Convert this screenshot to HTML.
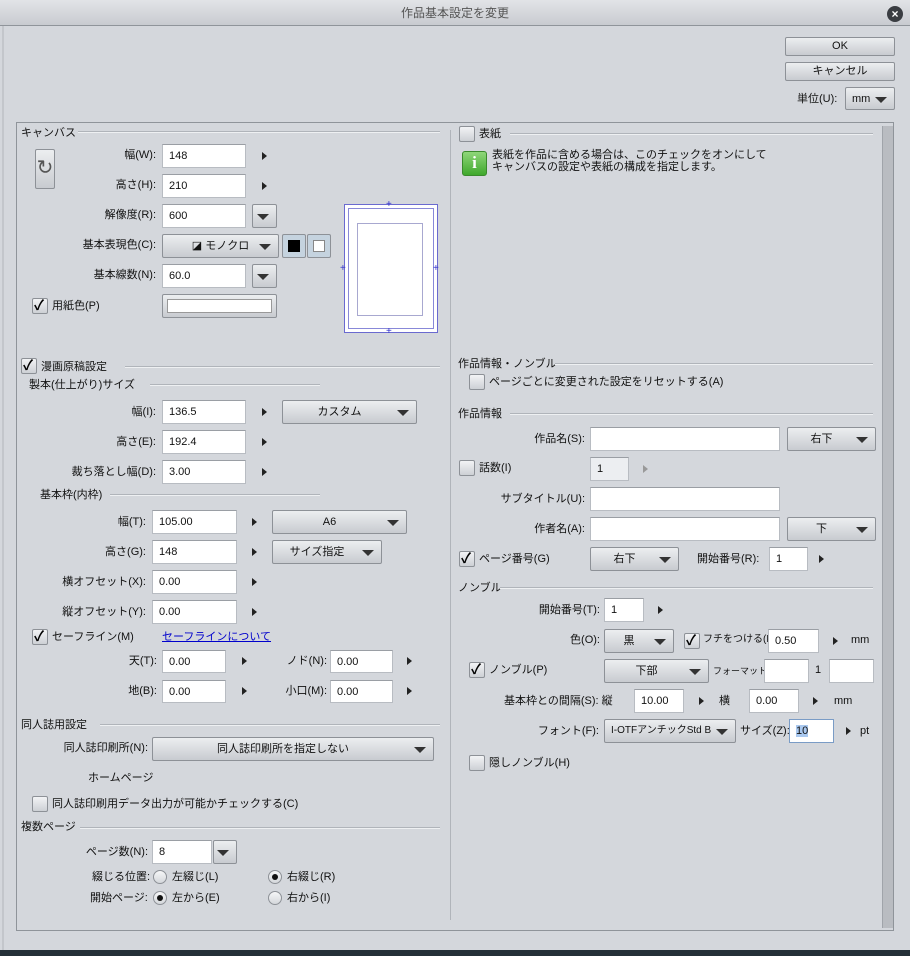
<!DOCTYPE html><html><head><meta charset="utf-8"><style>
body{margin:0;width:910px;height:956px;overflow:hidden;background:#d4d7dc;font-family:"Liberation Sans","Noto Sans CJK JP",sans-serif;font-size:11px;color:#111;position:relative}
div{position:absolute;box-sizing:border-box}
.t{line-height:14px;white-space:nowrap}
.r{text-align:right}
.in{background:#fff;border:1px solid #b8bcc2;border-top-color:#9a9ea4;padding:4px 0 0 6px;font-size:11px;line-height:14px}
.btn{background:linear-gradient(#eceef0,#c8cbd0);border:1px solid #8d9197;border-radius:2px;text-align:center;line-height:16px}
.dd{background:linear-gradient(#eceef0,#c8cbd0);border:1px solid #8d9197;border-radius:2px;line-height:22px;text-align:center}
.dd:after{content:"";position:absolute;right:7px;top:9px;border-left:6px solid transparent;border-right:6px solid transparent;border-top:6px solid #333}
.ar{width:0;height:0;border-top:4px solid transparent;border-bottom:4px solid transparent;border-left:5px solid #222}
.cb{width:16px;height:16px;border:1px solid #8d9197;border-radius:2px;background:linear-gradient(#f2f3f5,#cdd0d5)}
.ck:after{content:"✓";position:absolute;left:1px;top:-2px;font-size:14px;line-height:16px;font-weight:bold;color:#000}
.ln{background:#b0b4ba;border-bottom:1px solid #eef0f2;height:2px}
.rd{width:14px;height:14px;border:1px solid #8d9197;border-radius:50%;background:linear-gradient(#f6f7f8,#d4d7db)}
.rd.on:after{content:"";position:absolute;left:3px;top:3px;width:6px;height:6px;border-radius:50%;background:#111}
</style></head><body>
<div style="left:0;top:0;width:910px;height:26px;background:linear-gradient(#e2e4e7,#c8cbd0);border-bottom:1px solid #8f949a"></div>
<div class="t" style="left:0;top:6px;width:910px;text-align:center;color:#555;font-size:12px">作品基本設定を変更</div>
<div style="left:887px;top:6px;width:16px;height:16px;border-radius:50%;background:#3a3d42;color:#fff;font-size:12px;line-height:16px;text-align:center;font-weight:bold">×</div>
<div style="left:2px;top:26px;width:2px;height:924px;background:#c3c6cb"></div>

<div class="btn" style="left:785px;top:37px;width:110px;height:19px">OK</div>
<div class="btn" style="left:785px;top:62px;width:110px;height:19px">キャンセル</div>
<div class="t" style="left:797px;top:92px">単位(U):</div>
<div class="dd" style="left:845px;top:87px;width:50px;height:23px;text-align:left;padding-left:6px">mm</div>

<div style="left:16px;top:122px;width:878px;height:809px;border:1px solid #8f949a"></div>
<div style="left:882px;top:126px;width:11px;height:802px;background:#b9bcc1;border-left:1px solid #a0a4aa"></div>
<div style="left:450px;top:130px;width:1px;height:790px;background:#b0b4ba"></div>

<div class="t" style="left:21px;top:126px">キャンバス</div><div class="ln" style="left:78px;top:131px;width:362px"></div>
<div class="btn" style="left:35px;top:149px;width:20px;height:40px;font-size:20px;line-height:36px;color:#555">↻</div>
<div class="t r" style="right:754px;top:148px">幅(W):</div><div class="in" style="left:162px;top:144px;width:84px;height:24px">148</div><div class="ar" style="left:262px;top:152px"></div>
<div class="t r" style="right:754px;top:178px">高さ(H):</div><div class="in" style="left:162px;top:174px;width:84px;height:24px">210</div><div class="ar" style="left:262px;top:182px"></div>
<div class="t r" style="right:754px;top:208px">解像度(R):</div><div class="in" style="left:162px;top:204px;width:84px;height:24px">600</div><div class="dd" style="left:252px;top:204px;width:25px;height:24px"></div>
<div class="t r" style="right:754px;top:238px">基本表現色(C):</div><div class="dd" style="left:162px;top:234px;width:117px;height:24px">◪ モノクロ</div>
<div class="btn" style="left:282px;top:234px;width:24px;height:24px;background:#c5d3df"><div style="left:5px;top:5px;width:12px;height:12px;background:#000"></div></div>
<div class="btn" style="left:307px;top:234px;width:24px;height:24px;background:#c5d3df"><div style="left:5px;top:5px;width:12px;height:12px;background:#fff;border:1px solid #888"></div></div>
<div class="t r" style="right:754px;top:268px">基本線数(N):</div><div class="in" style="left:162px;top:264px;width:84px;height:24px">60.0</div><div class="dd" style="left:252px;top:264px;width:25px;height:24px"></div>
<div class="cb ck" style="left:32px;top:298px"></div><div class="t" style="left:52px;top:299px">用紙色(P)</div>
<div class="btn" style="left:162px;top:294px;width:115px;height:24px"><div style="left:4px;top:4px;width:105px;height:14px;background:#fff;border:1px solid #999"></div></div>
<div style="left:344px;top:204px;width:94px;height:129px;background:#fff;border:1px solid #6a6ad0"></div>
<div style="left:348px;top:208px;width:86px;height:121px;border:1px solid #8888d8"></div>
<div style="left:357px;top:223px;width:66px;height:93px;border:1px solid #a8a8d0"></div>
<div class="t" style="left:340px;top:262px;color:#33c;font-size:10px">+</div><div class="t" style="left:433px;top:262px;color:#33c;font-size:10px">+</div>
<div class="t" style="left:386px;top:198px;color:#33c;font-size:10px">+</div><div class="t" style="left:386px;top:325px;color:#33c;font-size:10px">+</div>

<div class="cb ck" style="left:21px;top:358px"></div><div class="t" style="left:41px;top:360px">漫画原稿設定</div><div class="ln" style="left:125px;top:366px;width:315px"></div>
<div class="t" style="left:29px;top:378px">製本(仕上がり)サイズ</div><div class="ln" style="left:150px;top:384px;width:170px"></div>
<div class="t r" style="right:754px;top:405px">幅(I):</div><div class="in" style="left:162px;top:400px;width:84px;height:24px">136.5</div><div class="ar" style="left:262px;top:408px"></div><div class="dd" style="left:282px;top:400px;width:135px;height:24px;padding-right:20px">カスタム</div>
<div class="t r" style="right:754px;top:435px">高さ(E):</div><div class="in" style="left:162px;top:430px;width:84px;height:24px">192.4</div><div class="ar" style="left:262px;top:438px"></div>
<div class="t r" style="right:754px;top:465px">裁ち落とし幅(D):</div><div class="in" style="left:162px;top:460px;width:84px;height:24px">3.00</div><div class="ar" style="left:262px;top:468px"></div>
<div class="t" style="left:40px;top:488px">基本枠(内枠)</div><div class="ln" style="left:110px;top:494px;width:210px"></div>
<div class="t r" style="right:764px;top:515px">幅(T):</div><div class="in" style="left:152px;top:510px;width:85px;height:24px">105.00</div><div class="ar" style="left:252px;top:518px"></div><div class="dd" style="left:272px;top:510px;width:135px;height:24px;padding-right:20px">A6</div>
<div class="t r" style="right:764px;top:545px">高さ(G):</div><div class="in" style="left:152px;top:540px;width:85px;height:24px">148</div><div class="ar" style="left:252px;top:548px"></div><div class="dd" style="left:272px;top:540px;width:110px;height:24px;padding-right:20px">サイズ指定</div>
<div class="t r" style="right:764px;top:575px">横オフセット(X):</div><div class="in" style="left:152px;top:570px;width:85px;height:24px">0.00</div><div class="ar" style="left:252px;top:578px"></div>
<div class="t r" style="right:764px;top:605px">縦オフセット(Y):</div><div class="in" style="left:152px;top:600px;width:85px;height:24px">0.00</div><div class="ar" style="left:252px;top:608px"></div>
<div class="cb ck" style="left:32px;top:629px"></div><div class="t" style="left:52px;top:630px">セーフライン(M)</div>
<div class="t" style="left:162px;top:630px;color:#00c;text-decoration:underline">セーフラインについて</div>
<div class="t r" style="right:753px;top:654px">天(T):</div><div class="in" style="left:162px;top:650px;width:64px;height:23px">0.00</div><div class="ar" style="left:242px;top:657px"></div>
<div class="t r" style="right:583px;top:654px">ノド(N):</div><div class="in" style="left:330px;top:650px;width:63px;height:23px">0.00</div><div class="ar" style="left:407px;top:657px"></div>
<div class="t r" style="right:753px;top:684px">地(B):</div><div class="in" style="left:162px;top:680px;width:64px;height:23px">0.00</div><div class="ar" style="left:242px;top:687px"></div>
<div class="t r" style="right:583px;top:684px">小口(M):</div><div class="in" style="left:330px;top:680px;width:63px;height:23px">0.00</div><div class="ar" style="left:407px;top:687px"></div>

<div class="t" style="left:21px;top:718px">同人誌用設定</div><div class="ln" style="left:100px;top:724px;width:340px"></div>
<div class="t r" style="right:762px;top:741px">同人誌印刷所(N):</div><div class="dd" style="left:152px;top:737px;width:282px;height:24px;padding-right:20px">同人誌印刷所を指定しない</div>
<div class="t" style="left:88px;top:771px">ホームページ</div>
<div class="cb" style="left:32px;top:796px"></div><div class="t" style="left:52px;top:797px">同人誌印刷用データ出力が可能かチェックする(C)</div>
<div class="t" style="left:21px;top:820px">複数ページ</div><div class="ln" style="left:80px;top:827px;width:360px"></div>
<div class="t r" style="right:762px;top:845px">ページ数(N):</div><div class="in" style="left:152px;top:840px;width:60px;height:24px">8</div><div class="dd" style="left:213px;top:840px;width:24px;height:24px"></div>
<div class="t" style="left:92px;top:870px">綴じる位置:</div><div class="rd" style="left:153px;top:870px"></div><div class="t" style="left:172px;top:870px">左綴じ(L)</div><div class="rd on" style="left:268px;top:870px"></div><div class="t" style="left:287px;top:870px">右綴じ(R)</div>
<div class="t" style="left:90px;top:891px">開始ページ:</div><div class="rd on" style="left:153px;top:891px"></div><div class="t" style="left:172px;top:891px">左から(E)</div><div class="rd" style="left:268px;top:891px"></div><div class="t" style="left:287px;top:891px">右から(I)</div>

<div class="cb" style="left:459px;top:126px"></div><div class="t" style="left:479px;top:127px">表紙</div><div class="ln" style="left:510px;top:133px;width:363px"></div>
<div style="left:462px;top:151px;width:25px;height:25px;border-radius:3px;background:linear-gradient(#8fd67a,#3fa82c);border:1px solid #3a8a2c;color:#fff;font-weight:bold;font-size:17px;line-height:22px;text-align:center;font-family:'Liberation Serif',serif">i</div>
<div class="t" style="left:492px;top:148px">表紙を作品に含める場合は、このチェックをオンにして</div>
<div class="t" style="left:492px;top:160px">キャンバスの設定や表紙の構成を指定します。</div>

<div class="t" style="left:458px;top:357px">作品情報・ノンブル</div><div class="ln" style="left:555px;top:363px;width:318px"></div>
<div class="cb" style="left:469px;top:374px"></div><div class="t" style="left:489px;top:375px">ページごとに変更された設定をリセットする(A)</div>
<div class="t" style="left:458px;top:407px">作品情報</div><div class="ln" style="left:510px;top:413px;width:363px"></div>
<div class="t r" style="right:325px;top:432px">作品名(S):</div><div class="in" style="left:590px;top:427px;width:190px;height:24px"></div><div class="dd" style="left:787px;top:427px;width:89px;height:24px;padding-right:20px">右下</div>
<div class="cb" style="left:459px;top:460px"></div><div class="t" style="left:479px;top:461px">話数(I)</div>
<div class="in" style="left:590px;top:457px;width:39px;height:24px;background:#eceef1">1</div><div class="ar" style="left:643px;top:465px;border-left-color:#999"></div>
<div class="t r" style="right:325px;top:492px">サブタイトル(U):</div><div class="in" style="left:590px;top:487px;width:190px;height:24px"></div>
<div class="t r" style="right:325px;top:522px">作者名(A):</div><div class="in" style="left:590px;top:517px;width:190px;height:24px"></div><div class="dd" style="left:787px;top:517px;width:89px;height:24px;padding-right:20px">下</div>
<div class="cb ck" style="left:459px;top:551px"></div><div class="t" style="left:479px;top:552px">ページ番号(G)</div>
<div class="dd" style="left:590px;top:547px;width:89px;height:24px;padding-right:20px">右下</div>
<div class="t" style="left:697px;top:552px">開始番号(R):</div><div class="in" style="left:769px;top:547px;width:39px;height:24px">1</div><div class="ar" style="left:819px;top:555px"></div>
<div class="t" style="left:458px;top:581px">ノンブル</div><div class="ln" style="left:500px;top:587px;width:373px"></div>
<div class="t r" style="right:310px;top:603px">開始番号(T):</div><div class="in" style="left:604px;top:598px;width:40px;height:24px">1</div><div class="ar" style="left:658px;top:606px"></div>
<div class="t r" style="right:310px;top:633px">色(O):</div><div class="dd" style="left:604px;top:629px;width:70px;height:24px;padding-right:20px">黒</div>
<div class="cb ck" style="left:684px;top:633px"></div><div class="t" style="left:703px;top:633px;font-size:10px">フチをつける(E)</div><div class="in" style="left:768px;top:629px;width:51px;height:24px">0.50</div><div class="ar" style="left:833px;top:637px"></div><div class="t" style="left:851px;top:633px">mm</div>
<div class="cb ck" style="left:469px;top:662px"></div><div class="t" style="left:489px;top:663px">ノンブル(P)</div>
<div class="dd" style="left:604px;top:659px;width:105px;height:24px;padding-right:20px">下部</div>
<div class="t" style="left:713px;top:664px;font-size:9px">フォーマット</div><div class="in" style="left:764px;top:659px;width:45px;height:24px"></div><div class="t" style="left:815px;top:663px">1</div><div class="in" style="left:829px;top:659px;width:45px;height:24px"></div>
<div class="t" style="left:504px;top:694px">基本枠との間隔(S): 縦</div><div class="in" style="left:634px;top:689px;width:50px;height:24px">10.00</div><div class="ar" style="left:699px;top:697px"></div>
<div class="t" style="left:719px;top:694px">横</div><div class="in" style="left:749px;top:689px;width:50px;height:24px">0.00</div><div class="ar" style="left:813px;top:697px"></div><div class="t" style="left:834px;top:694px">mm</div>
<div class="t r" style="right:311px;top:724px">フォント(F):</div><div class="dd" style="left:604px;top:719px;width:132px;height:24px;text-align:left;padding-left:6px;font-size:10px">I-OTFアンチックStd B</div>
<div class="t" style="left:740px;top:724px">サイズ(Z):</div><div class="in" style="left:789px;top:719px;width:45px;height:24px;border-color:#7a9cc6"><span style="background:#a9c8ef">10</span></div><div class="ar" style="left:846px;top:727px"></div><div class="t" style="left:860px;top:724px">pt</div>
<div class="cb" style="left:469px;top:755px"></div><div class="t" style="left:489px;top:756px">隠しノンブル(H)</div>

<div style="left:0;top:950px;width:910px;height:6px;background:#243038"></div>
</body></html>
